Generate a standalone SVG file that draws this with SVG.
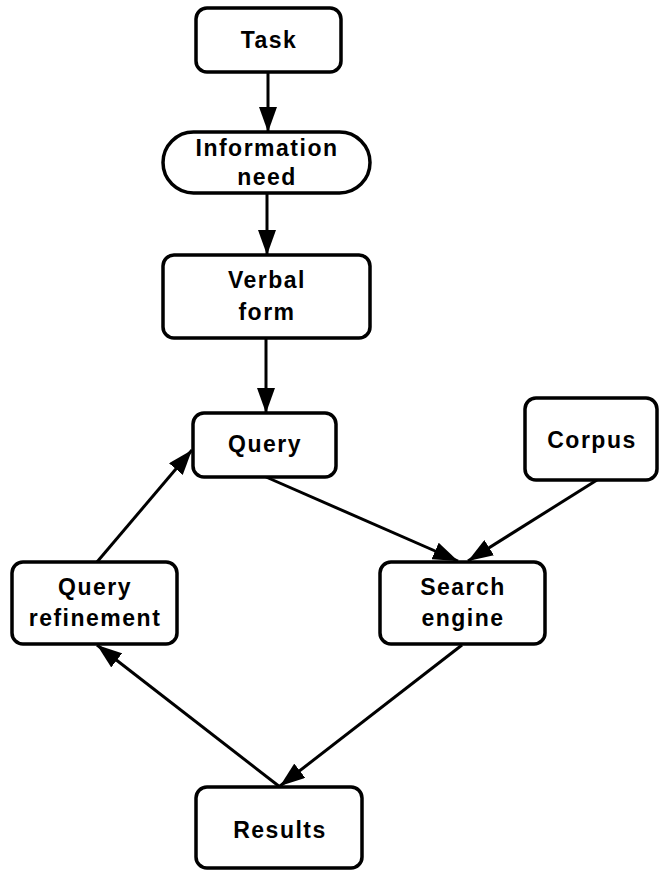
<svg xmlns="http://www.w3.org/2000/svg" width="660" height="871" viewBox="0 0 660 871">
  <style>
    .box { fill: #ffffff; stroke: #000000; stroke-width: 3.5; }
    .lbl { font-family: "Liberation Sans", Arial, sans-serif; font-size: 23px; font-weight: bold; letter-spacing: 1.5px; text-anchor: middle; fill: #000000; }
    .edge { stroke: #000000; stroke-width: 3; fill: none; marker-end: url(#arrow); }
  </style>
  <defs>
    <marker id="arrow" markerUnits="userSpaceOnUse" markerWidth="26" markerHeight="18" refX="25" refY="9" orient="auto">
      <path d="M0,0 L25,9 L0,18 Z" fill="#000000"/>
    </marker>
  </defs>

  <g id="connectors">
    <line class="edge" x1="268" y1="72" x2="268" y2="132"/>
    <line class="edge" x1="267" y1="193" x2="267" y2="255"/>
    <line class="edge" x1="266" y1="338" x2="266" y2="413"/>
    <line class="edge" x1="266" y1="477" x2="458" y2="561"/>
    <line class="edge" x1="597" y1="480" x2="468" y2="561"/>
    <line class="edge" x1="462" y1="645" x2="280" y2="786"/>
    <line class="edge" x1="280" y1="787" x2="97" y2="645"/>
    <line class="edge" x1="97" y1="562" x2="192" y2="450"/>
  </g>

  <g id="task">
    <rect class="box" x="196" y="8" width="145" height="64" rx="11"/>
    <text class="lbl" x="269" y="48">Task</text>
  </g>

  <g id="information-need">
    <rect class="box" x="163" y="132" width="207" height="61" rx="30.5"/>
    <text class="lbl" x="267" y="156">Information</text>
    <text class="lbl" x="267" y="185">need</text>
  </g>

  <g id="verbal-form">
    <rect class="box" x="163" y="255" width="207" height="83" rx="11"/>
    <text class="lbl" x="267" y="288">Verbal</text>
    <text class="lbl" x="267" y="320">form</text>
  </g>

  <g id="query">
    <rect class="box" x="193" y="413" width="143" height="64" rx="11"/>
    <text class="lbl" x="265" y="452">Query</text>
  </g>

  <g id="corpus">
    <rect class="box" x="525" y="398" width="132" height="82" rx="11"/>
    <text class="lbl" x="592" y="448">Corpus</text>
  </g>

  <g id="query-refinement">
    <rect class="box" x="12" y="562" width="165" height="82" rx="11"/>
    <text class="lbl" x="95" y="595">Query</text>
    <text class="lbl" x="95" y="626">refinement</text>
  </g>

  <g id="search-engine">
    <rect class="box" x="380" y="562" width="165" height="82" rx="11"/>
    <text class="lbl" x="463" y="595">Search</text>
    <text class="lbl" x="463" y="626">engine</text>
  </g>

  <g id="results">
    <rect class="box" x="196" y="787" width="166" height="81" rx="11"/>
    <text class="lbl" x="280" y="838">Results</text>
  </g>
</svg>
